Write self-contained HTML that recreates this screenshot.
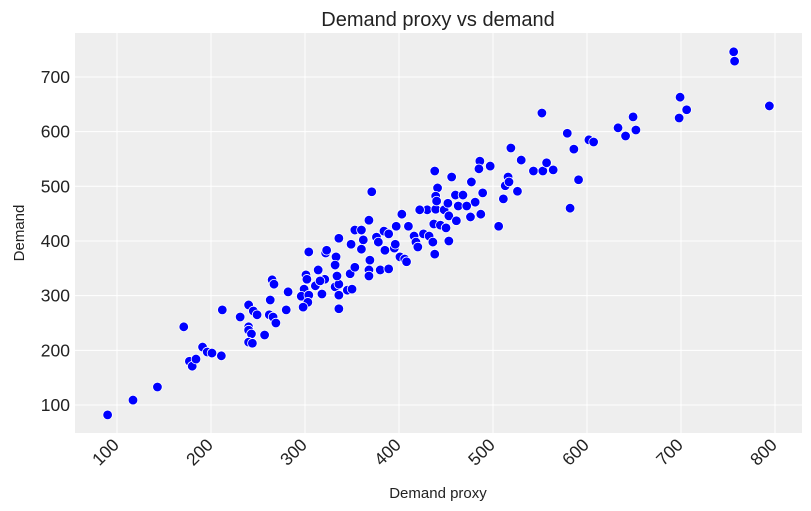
<!DOCTYPE html>
<html><head><meta charset="utf-8">
<style>
html,body{margin:0;padding:0;background:#fff;}
svg{display:block;font-family:"Liberation Sans","DejaVu Sans",sans-serif;}
</style></head>
<body>
<svg id="chart" width="811" height="511">
<rect x="75" y="33" width="727" height="400" fill="#eeeeee"/>
<g id="grid"></g>
<g id="points"></g>
<g id="axes"></g>
<text x="438" y="26" text-anchor="middle" font-size="20" fill="#222">Demand proxy vs demand</text>
<text x="438" y="498" text-anchor="middle" font-size="15" fill="#222">Demand proxy</text>
<text x="24" y="233" text-anchor="middle" font-size="15" fill="#222" transform="rotate(-90 24 233)">Demand</text>
</svg>
<script>
const xTicks = [100,200,300,400,500,600,700,800];
const yTicks = [100,200,300,400,500,600,700];
const demandProxy = [90,117,143,171,177,180,184,191,196,201,211,212,231,240,245,249,240,240,243,240,244,257,263,265,267,262,266,269,280,282,304,322,323,301,302,299,296,304,303,298,311,314,318,321,316,332,336,334,333,332,336,336,336,345,350,348,353,349,353,360,362,360,368,371,368,368,369,376,378,384,389,385,380,389,397,403,395,396,401,406,408,410,416,418,420,426,432,436,438,430,422,439,448,437,444,450,453,461,453,476,487,506,438,456,441,439,440,460,468,489,481,452,463,472,477,486,485,497,519,530,511,513,516,517,526,543,553,564,557,552,579,586,591,582,602,607,633,649,652,641,699,706,698,756,757,794];
const demand = [82,109,133,243,180,171,184,206,197,195,190,274,261,283,272,265,243,237,230,215,213,228,292,329,321,265,261,250,274,307,380,378,383,338,330,312,299,301,288,279,318,347,303,330,327,316,321,336,371,356,405,301,276,310,312,340,352,394,420,420,402,385,438,490,347,336,365,407,398,418,413,383,347,349,427,449,387,394,371,367,362,427,409,398,389,413,409,398,376,457,457,458,457,431,429,424,446,437,400,444,449,427,528,517,497,482,473,484,484,488,471,469,464,464,508,546,532,537,570,548,477,501,517,508,491,528,528,530,543,634,597,568,512,460,585,581,607,627,603,592,663,640,625,746,729,647];

const L=75,R=802,T=33,B=433;
const xMin=55.3,xMax=828.7,yMin=48.8,yMax=780.4;
function sx(v){return L+(v-xMin)/(xMax-xMin)*(R-L);}
function sy(v){return B-(v-yMin)/(yMax-yMin)*(B-T);}
const NS="http://www.w3.org/2000/svg";
const grid=document.getElementById('grid'), axes=document.getElementById('axes'), pts=document.getElementById('points');

xTicks.forEach(t=>{
  const l=document.createElementNS(NS,'line');
  l.setAttribute('x1',sx(t));l.setAttribute('x2',sx(t));l.setAttribute('y1',T);l.setAttribute('y2',B);
  l.setAttribute('stroke','#fff');l.setAttribute('stroke-width','1');
  
  
  grid.appendChild(l);
  const tx=document.createElementNS(NS,'text');
  const x=sx(t)+3,y=B+13;
  tx.setAttribute('x',x);tx.setAttribute('y',y);
  tx.setAttribute('text-anchor','end');tx.setAttribute('font-size','17.5');tx.setAttribute('fill','#222');
  tx.setAttribute('transform','rotate(-45 '+x+' '+y+')');
  tx.textContent=t;
  
  
  axes.appendChild(tx);
});
yTicks.forEach(t=>{
  const l=document.createElementNS(NS,'line');
  l.setAttribute('x1',L);l.setAttribute('x2',R);l.setAttribute('y1',sy(t));l.setAttribute('y2',sy(t));
  l.setAttribute('stroke','#fff');l.setAttribute('stroke-width','1');
  
  
  grid.appendChild(l);
  const tx=document.createElementNS(NS,'text');
  tx.setAttribute('x',L-5);tx.setAttribute('y',sy(t)+6);
  tx.setAttribute('text-anchor','end');tx.setAttribute('font-size','17.5');tx.setAttribute('fill','#222');
  tx.textContent=t;
  
  
  axes.appendChild(tx);
});
demandProxy.forEach((v,i)=>{
  const c=document.createElementNS(NS,'circle');
  c.setAttribute('cx',sx(v));c.setAttribute('cy',sy(demand[i]));c.setAttribute('r','4.8');
  c.setAttribute('fill','#0000ff');c.setAttribute('stroke','#fff');c.setAttribute('stroke-width','0.8');
  
  
  pts.appendChild(c);
});
</script>
</body></html>
